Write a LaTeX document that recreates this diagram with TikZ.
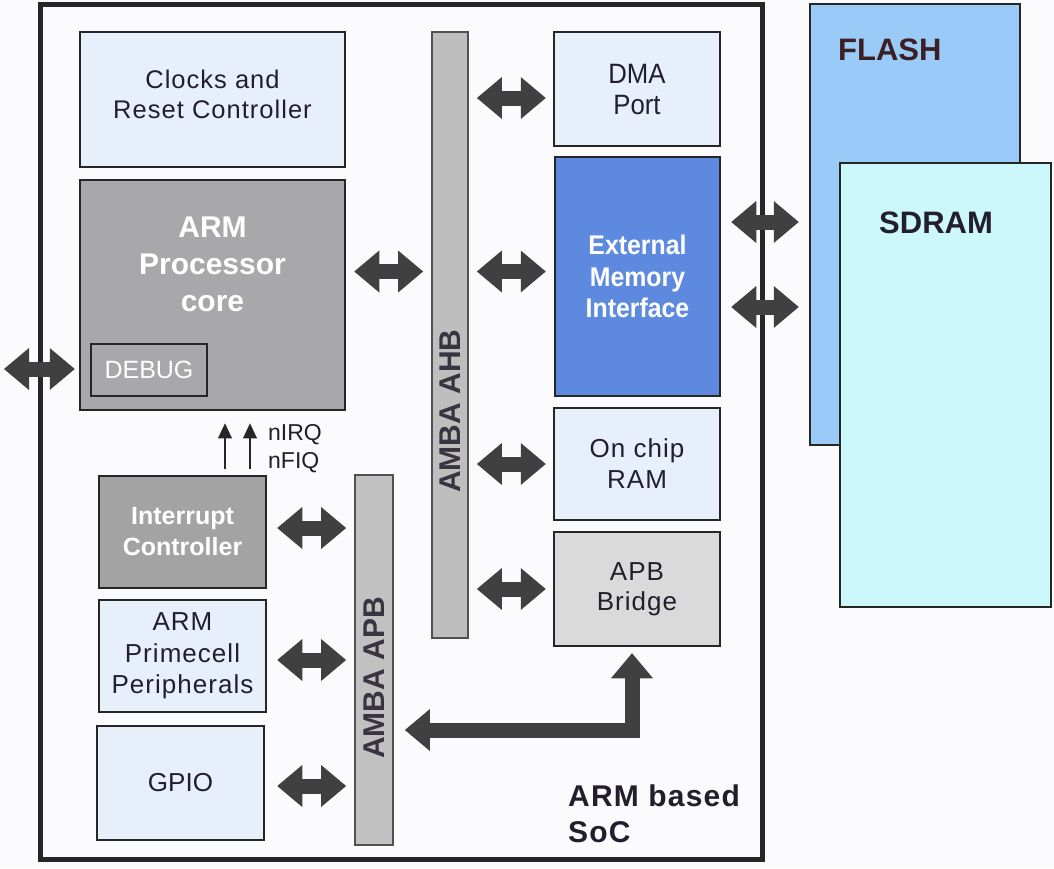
\documentclass[tikz,border=0pt]{standalone}
\usepackage{fontspec}
\setmainfont{Liberation Sans}
\newfontfamily\widef[LetterSpace=4.0]{Liberation Sans}
\newfontfamily\narrowf[FakeStretch=0.92]{Liberation Sans}
\usetikzlibrary{arrows.meta}
\definecolor{bgc}{HTML}{FBFBFD}
\definecolor{lightbl}{HTML}{E7F0FA}
\definecolor{coregray}{HTML}{A8A8AA}
\definecolor{intcgray}{HTML}{A3A3A3}
\definecolor{bridgegray}{HTML}{DADADA}
\definecolor{bargray}{HTML}{BEBEBE}
\definecolor{emiblue}{HTML}{5D8ADF}
\definecolor{flashblue}{HTML}{9ACAF8}
\definecolor{sdramcyan}{HTML}{CCF8FC}
\definecolor{borderc}{HTML}{262626}
\definecolor{arrowc}{HTML}{404040}
\definecolor{textdark}{HTML}{221E2C}
\definecolor{flashtext}{HTML}{3B1F22}
\begin{document}
\begin{tikzpicture}[x=1pt,y=-1pt,
  box/.style={draw=borderc, line width=2.5pt, rectangle, inner sep=0pt, align=center, text=textdark},
  busbar/.style={draw=borderc!80, line width=1.8pt, rectangle, inner sep=0pt, fill=bargray},
  bustext/.style={rotate=90, text=textdark!90, font=\bfseries\fontsize{30}{36}\selectfont},
  bigarrow/.style={draw=arrowc, line width=15pt, line join=miter,
    {Triangle[length=25pt,width=42pt,line width=0pt]}-{Triangle[length=25pt,width=42pt,line width=0pt]}},
  sigarrow/.style={draw=black!85, line width=2pt, -{Triangle[length=15pt,width=14pt,line width=0pt]}}
]
\useasboundingbox (0,0) rectangle (1054,868);
\fill[bgc] (0,0) rectangle (1054,868);

% SoC container
\node[draw=borderc, line width=5pt, inner sep=0pt, minimum width=721.5pt, minimum height=855pt] (soc) at (401.25,432) {};

% external memories
\node[box, fill=flashblue, minimum width=210pt, minimum height=441pt] (flash) at (915,224.5) {};
\node[box, fill=sdramcyan, minimum width=211pt, minimum height=444pt] (sdram) at (945.5,385) {};
\node[anchor=base west, inner sep=0pt, text=flashtext, font=\bfseries\fontsize{31}{37}\selectfont] (flasht) at (838,60) {FLASH};
\node[anchor=base west, inner sep=0pt, text=textdark, font=\bfseries\fontsize{31}{37}\selectfont] (sdramt) at (879,233) {SDRAM};

% left column
\node[box, fill=lightbl, minimum width=265pt, minimum height=135pt, font={\widef\fontsize{25.5}{30}\selectfont}] (clocks) at (212.5,99.5) {Clocks and\\Reset Controller\rule[-10pt]{0pt}{0pt}};
\node[box, fill=coregray, minimum width=265pt, minimum height=230pt] (arm) at (212.5,295) {};
\node[text=white, align=center, font=\bfseries\fontsize{30}{37}\selectfont] (armt) at (212.5,264) {ARM\\Processor\\core};
\node[box, fill=coregray, text=white, minimum width=116pt, minimum height=52pt, font=\fontsize{25}{30}\selectfont] (debug) at (149,370) {DEBUG};

\node[box, fill=intcgray, text=white, minimum width=167pt, minimum height=112pt, font=\bfseries\fontsize{25}{31}\selectfont] (intc) at (182.5,532) {Interrupt\\Controller};
\node[box, fill=lightbl, minimum width=167pt, minimum height=112pt, font={\widef\fontsize{26}{31.5}\selectfont}] (prime) at (182.5,656) {ARM\\Primecell\\Peripherals};
\node[box, fill=lightbl, minimum width=167pt, minimum height=114pt, font=\fontsize{26}{31}\selectfont] (gpio) at (180.5,783) {GPIO};

% buses
\node[busbar, minimum width=36pt, minimum height=606pt] (ahb) at (450,335) {};
\node[bustext] (ahbt) at (450,411) {AMBA AHB};
\node[busbar, fill=bargray!95!white, minimum width=38pt, minimum height=370pt] (apb) at (374,660) {};
\node[bustext] (apbt) at (374,678) {AMBA APB};

% right column
\node[box, fill=lightbl, minimum width=166pt, minimum height=114pt, font={\narrowf\fontsize{28}{31}\selectfont}] (dma) at (637,89) {DMA\\Port};
\node[box, fill=emiblue, text=white, minimum width=165pt, minimum height=239pt, font={\narrowf\bfseries\fontsize{27}{31.5}\selectfont}] (emi) at (637.5,276.5) {External\\Memory\\Interface};
\node[box, fill=lightbl, minimum width=166pt, minimum height=112pt, font={\widef\fontsize{26}{31}\selectfont}] (ram) at (637,464) {On chip\\RAM};
\node[box, fill=bridgegray, minimum width=166pt, minimum height=114pt, font={\widef\fontsize{26}{30}\selectfont}] (bridge) at (637,589) {APB\\Bridge};

% helper coordinates
\coordinate (extL) at (4,369);
\coordinate (busA) at ([yshift=5pt]emi.west);
\coordinate (dmaA) at ([yshift=-9pt]dma.west);
\coordinate (flA) at ([yshift=54.5pt]emi.east);
\coordinate (flB) at ([yshift=-30.5pt]emi.east);
\coordinate (icA) at ([yshift=4pt]intc.east);
\coordinate (pcA) at ([yshift=-4pt]prime.east);
\coordinate (gpA) at ([yshift=-3pt]gpio.east);
\coordinate (brA) at ([xshift=-5pt,yshift=-6pt]bridge.south);
\coordinate (lcorner) at (632,730);

% big connectors
\draw[bigarrow] (extL) -- ([xshift=-4pt]arm.west |- extL);
\draw[bigarrow] ([xshift=8pt]arm.east |- busA) -- ([xshift=-8pt]ahb.west |- busA);
\draw[bigarrow] ([xshift=8pt]ahb.east |- dmaA) -- ([xshift=-7pt]dmaA);
\draw[bigarrow] ([xshift=8pt]ahb.east |- busA) -- ([xshift=-8pt]busA);
\draw[bigarrow] ([xshift=8pt]ahb.east |- ram.west) -- ([xshift=-7pt]ram.west);
\draw[bigarrow] ([xshift=8pt]ahb.east |- bridge.west) -- ([xshift=-7pt]bridge.west);
\draw[bigarrow] ([xshift=10pt]flA) -- ([xshift=-10pt]flash.west |- flA);
\draw[bigarrow] ([xshift=10pt]flB) -- ([xshift=-10pt]flash.west |- flB);
\draw[bigarrow] ([xshift=10pt]icA) -- ([xshift=-8pt]apb.west |- icA);
\draw[bigarrow] ([xshift=10pt]pcA) -- ([xshift=-8pt]apb.west |- pcA);
\draw[bigarrow] ([xshift=12pt]gpA) -- ([xshift=-8pt]apb.west |- gpA);
\draw[bigarrow] (brA) |- ([xshift=11pt]apb.east |- lcorner);

% interrupt signals
\draw[sigarrow, shorten <=6pt] ([xshift=42.5pt]intc.north) -- ([xshift=42.5pt,yshift=-12pt]intc.north |- arm.south);
\draw[sigarrow, shorten <=6pt] ([xshift=67.5pt]intc.north) -- ([xshift=67.5pt,yshift=-12pt]intc.north |- arm.south);
\node[anchor=north west, align=left, inner sep=0pt, text=textdark, font=\fontsize{23}{28}\selectfont] (irq) at (268,424) {nIRQ\\nFIQ};

% SoC label
\node[anchor=north west, align=left, inner sep=0pt, text=textdark, font={\widef\bfseries\fontsize{30}{36}\selectfont}] (soct) at (568,785) {ARM based\\SoC};
\end{tikzpicture}
\end{document}
